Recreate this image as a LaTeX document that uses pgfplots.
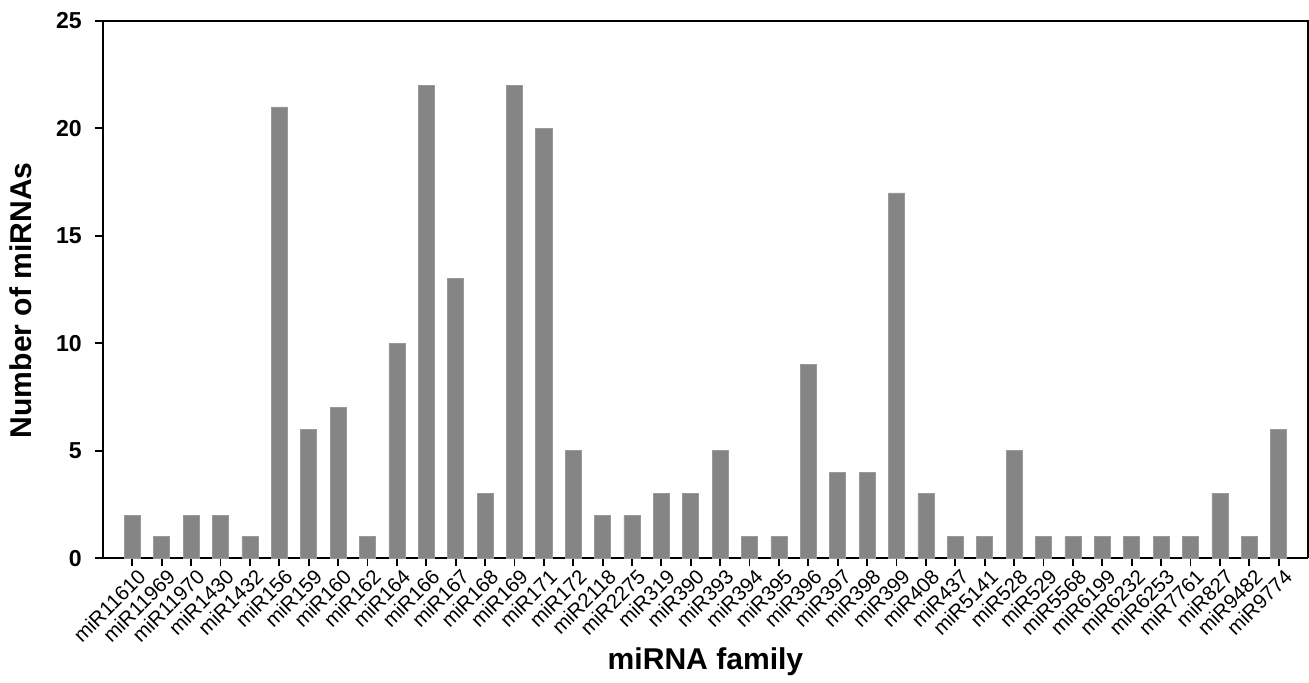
\documentclass[border=0pt]{standalone}
\usepackage{fontspec}
\setmainfont{Liberation Sans}
\usepackage{pgfplots}
\pgfplotsset{compat=1.18}
\definecolor{barfill}{HTML}{858585}
\definecolor{baredge}{HTML}{9A9A9A}
\begin{document}
\begin{tikzpicture}
\begin{axis}[
  name=main,
  scale only axis,
  width=601pt, height=268pt,
  xmin=-1, xmax=40,
  ymin=0, ymax=25,
  ytick={0,5,10,15,20,25},
  xtick={0,...,39},
  xticklabels={miR11610,miR11969,miR11970,miR1430,miR1432,miR156,miR159,miR160,miR162,miR164,miR166,miR167,miR168,miR169,miR171,miR172,miR2118,miR2275,miR319,miR390,miR393,miR394,miR395,miR396,miR397,miR398,miR399,miR408,miR437,miR5141,miR528,miR529,miR5568,miR6199,miR6232,miR6253,miR7761,miR827,miR9482,miR9774},
  x tick label style={rotate=45, anchor=north east, font=\fontsize{10.2}{11}\selectfont, inner sep=1pt, xshift=2pt, yshift=-1pt},
  y tick label style={font=\fontsize{11.5}{13}\selectfont\bfseries, xshift=-3pt},
  /pgf/number format/assume math mode=true,
  tick align=outside,
  major tick length=4pt,
  tick style={line width=0.9pt, black},
  axis line style={line width=1pt, black},
  xtick pos=bottom, ytick pos=left,
  axis x line*=bottom, axis y line*=left,
  clip=false,
  xlabel={miRNA family},
  ylabel={Number of miRNAs},
  xlabel style={font=\fontsize{15}{17}\selectfont\bfseries, at={(axis description cs:0.5,-0.192)}, anchor=center},
  ylabel style={font=\fontsize{15}{17}\selectfont\bfseries, at={(axis description cs:-0.0682,0.48)}, anchor=center},
]
% top and right frame lines
\draw[line width=1pt, black] (axis cs:-1,25) -- (axis cs:40,25) -- (axis cs:40,0);
\addplot[ybar, bar width=8pt, fill=barfill, draw=baredge, line width=0.3pt] coordinates {
(0,2) (1,1) (2,2) (3,2) (4,1) (5,21) (6,6) (7,7) (8,1) (9,10)
(10,22) (11,13) (12,3) (13,22) (14,20) (15,5) (16,2) (17,2) (18,3) (19,3)
(20,5) (21,1) (22,1) (23,9) (24,4) (25,4) (26,17) (27,3) (28,1) (29,1)
(30,5) (31,1) (32,1) (33,1) (34,1) (35,1) (36,1) (37,3) (38,1) (39,6)
};
\end{axis}
% a little white margin at the top left
\path ([shift={(-1.5pt,3pt)}]main.outer north west);
\end{tikzpicture}
\end{document}
